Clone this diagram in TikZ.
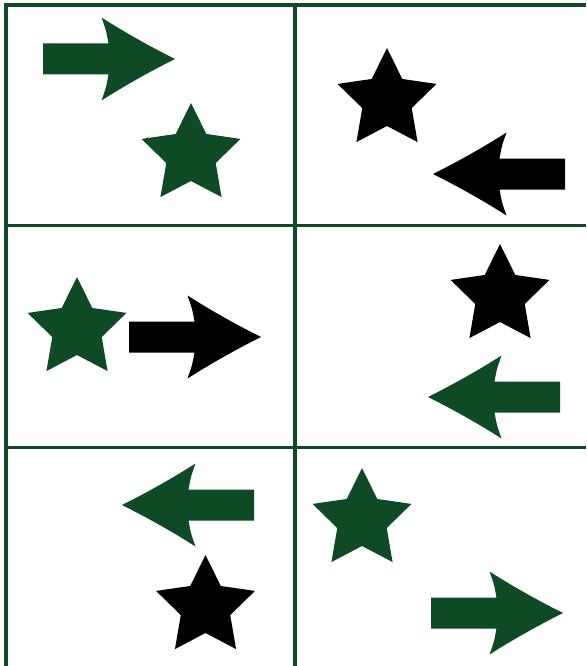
\documentclass[tikz,border=0pt]{standalone}
\definecolor{dg}{RGB}{14,75,36}
\tikzset{
  gridline/.style={draw=dg, line width=3.6pt},
  arrowshape/.pic={
    \fill[pic actions] (0,0) .. controls (-25,-12.5) and (-50,-26.5) .. (-73.5,-41.5)
      .. controls (-69,-29) .. (-66.5,-15.5) -- (-132,-15.5) -- (-132,15.5) -- (-66.5,15.5)
      .. controls (-69,29) .. (-73.5,41.5) .. controls (-50,26.5) and (-25,12.5) .. (0,0) -- cycle;
  },
  starshape/.pic={
    \fill[pic actions] (270:52) -- (306:26) -- (342:52) -- (18:26) -- (54:52) -- (90:26)
      -- (126:52) -- (162:26) -- (198:52) -- (234:26) -- cycle;
  }
}
\begin{document}
\begin{tikzpicture}[x=1pt,y=-1pt]
\useasboundingbox (0,0) rectangle (586,666);
\fill[white] (0,0) rectangle (586,666);
% grid
\draw[gridline] (6,5) -- (586,5);
\draw[gridline] (6,225.5) -- (586,225.5);
\draw[gridline] (6,447.5) -- (586,447.5);
\draw[gridline] (6,3.2) -- (6,666);
\draw[gridline] (295,3.2) -- (295,666);
% row 1
\pic[fill=dg] at (175,59) {arrowshape};
\pic[fill=dg] at (191,155) {starshape};
\pic[fill=black] at (387,100) {starshape};
\pic[fill=black, xscale=-1] at (433,174) {arrowshape};
% row 2
\pic[fill=dg] at (77,329) {starshape};
\pic[fill=black] at (261,337) {arrowshape};
\pic[fill=black] at (500,296) {starshape};
\pic[fill=dg, xscale=-1] at (428,397) {arrowshape};
% row 3
\pic[fill=dg, xscale=-1] at (122,505) {arrowshape};
\pic[fill=black] at (205.5,607) {starshape};
\pic[fill=dg] at (362,520) {starshape};
\pic[fill=dg] at (563,613) {arrowshape};
\end{tikzpicture}
\end{document}
